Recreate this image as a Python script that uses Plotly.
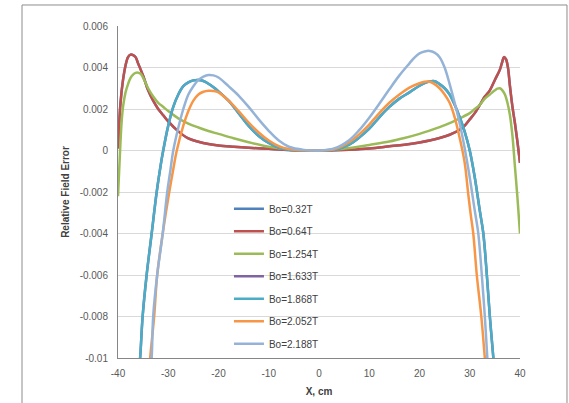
import plotly.graph_objects as go

# ---- data ----
series_names = ["Bo=0.32T", "Bo=0.64T", "Bo=1.254T", "Bo=1.633T", "Bo=1.868T", "Bo=2.052T", "Bo=2.188T"]
series_colors = ["#4F81BD", "#C0504D", "#9BBB59", "#8064A2", "#4BACC6", "#F79646", "#95B3D7"]

# 0.32T lies underneath the 0.64T curve in the picture
x_032 = [-40, -39.5, -39, -38.5, -38, -37.5, -37, -36.5, -36, -35, -34, -33, -32, -31, -30, -28, -26, -24, -22, -20, -17, -14, -10, -6, -3, 0,
         3, 6, 10, 14, 17, 20, 22, 24, 26, 28, 29, 30, 31, 32, 33, 34, 35, 36, 36.5, 36.8, 37.2, 37.6, 38, 38.5, 39, 39.5, 40]
y_032 = [0.0001, 0.0023, 0.0034, 0.0041, 0.0045, 0.00462, 0.0046, 0.0045, 0.0042, 0.0036, 0.0029, 0.0024, 0.0020, 0.0017, 0.0014, 0.00092, 0.00058, 0.00042, 0.00031, 0.00024, 0.00018, 0.00013, 0.00008, 0.00003, 0.00001, 0,
         0.00001, 0.00004, 0.0001, 0.0002, 0.00028, 0.00039, 0.00048, 0.0006, 0.00076, 0.001, 0.0012, 0.0015, 0.0018, 0.0022, 0.0026, 0.0029, 0.0034, 0.0039, 0.0043, 0.0045, 0.0044, 0.0040, 0.0031, 0.0021, 0.0013, 0.0004, -0.0006]

x_064 = [-40, -39.5, -39, -38.5, -38, -37.5, -37, -36.5, -36, -35, -34, -33, -32, -31, -30, -28, -26, -24, -22, -20, -17, -14, -10, -6, -3, 0,
         3, 6, 10, 14, 17, 20, 22, 24, 26, 28, 29, 30, 31, 32, 33, 34, 35, 36, 36.5, 36.8, 37.2, 37.6, 38, 38.5, 39, 39.5, 40]
y_064 = [0.0001, 0.0023, 0.0034, 0.0041, 0.0045, 0.00462, 0.0046, 0.0045, 0.0042, 0.0036, 0.0029, 0.0024, 0.0020, 0.0017, 0.0014, 0.00092, 0.00058, 0.00042, 0.00031, 0.00024, 0.00018, 0.00013, 0.00008, 0.00003, 0.00001, 0,
         0.00001, 0.00004, 0.0001, 0.0002, 0.00028, 0.00039, 0.00048, 0.0006, 0.00076, 0.001, 0.0012, 0.0015, 0.0018, 0.0022, 0.0026, 0.0029, 0.0034, 0.0039, 0.0043, 0.0045, 0.0044, 0.0040, 0.0031, 0.0021, 0.0013, 0.0004, -0.0006]

x_1254 = [-40, -39.7, -39.3, -39, -38.5, -38, -37.5, -37, -36.5, -36, -35.5, -35, -34, -33, -32, -31, -30, -28, -26, -24, -22, -20, -17, -14, -10, -6, -3, 0,
          3, 6, 10, 14, 17, 20, 22, 24, 26, 28, 30, 31, 32, 33, 34, 35, 35.5, 36, 36.5, 37, 37.5, 38, 38.5, 39, 39.5, 40]
y_1254 = [-0.0022, -0.0006, 0.0013, 0.0021, 0.0028, 0.0032, 0.0035, 0.00366, 0.00374, 0.00375, 0.0037, 0.0035, 0.0030, 0.0026, 0.0023, 0.0021, 0.0019, 0.00155, 0.0013, 0.00111, 0.00094, 0.0008, 0.00059, 0.0004, 0.00018, 0.00005, 0.00001, 0,
          0.00004, 0.00012, 0.00027, 0.00043, 0.0006, 0.0008, 0.00096, 0.00113, 0.00132, 0.00155, 0.0018, 0.002, 0.0022, 0.0025, 0.0027, 0.0029, 0.00298, 0.003, 0.0029, 0.0027, 0.0023, 0.0017, 0.0007, -0.0008, -0.0023, -0.004]

# 1.633T lies underneath the 1.868T curve in the picture
x_1633 = [-36.2, -35.6, -35.1, -34.3, -33.3, -32.3, -31.5, -31, -30, -29, -28, -27, -26, -25, -24, -23, -22, -21, -20, -18, -16, -14, -12, -10, -8, -6, -3, 0,
          3, 6, 8, 10, 12, 14, 16, 18, 20, 21, 22, 23, 24, 25, 26, 27, 28, 29, 30, 31, 32, 32.7, 33.4, 34, 34.7, 35.2]
y_1633 = [-0.0115, -0.01, -0.008, -0.006, -0.004, -0.002, -0.0007, 0, 0.0012, 0.0021, 0.0027, 0.0031, 0.00328, 0.00338, 0.0034, 0.00335, 0.00322, 0.00305, 0.00285, 0.0024, 0.0018, 0.00118, 0.0007, 0.00036, 0.00014, 0.00004, 0.00001, 0,
          0.00004, 0.00028, 0.00062, 0.00105, 0.0016, 0.0021, 0.0025, 0.0028, 0.00312, 0.00325, 0.00333, 0.00334, 0.0032, 0.003, 0.0027, 0.0022, 0.0016, 0.0009, 0.0, -0.0013, -0.0029, -0.004, -0.006, -0.008, -0.01, -0.0115]

x_1868 = [-36.2, -35.6, -35.1, -34.3, -33.3, -32.3, -31.5, -31, -30, -29, -28, -27, -26, -25, -24, -23, -22, -21, -20, -18, -16, -14, -12, -10, -8, -6, -3, 0,
          3, 6, 8, 10, 12, 14, 16, 18, 20, 21, 22, 23, 24, 25, 26, 27, 28, 29, 30, 31, 32, 32.7, 33.4, 34, 34.7, 35.2]
y_1868 = [-0.0115, -0.01, -0.008, -0.006, -0.004, -0.002, -0.0007, 0, 0.0012, 0.0021, 0.0027, 0.0031, 0.00328, 0.00338, 0.0034, 0.00335, 0.00322, 0.00305, 0.00285, 0.0024, 0.0018, 0.00118, 0.0007, 0.00036, 0.00014, 0.00004, 0.00001, 0,
          0.00004, 0.00028, 0.00062, 0.00105, 0.0016, 0.0021, 0.0025, 0.0028, 0.00312, 0.00325, 0.00333, 0.00334, 0.0032, 0.003, 0.0027, 0.0022, 0.0016, 0.0009, 0.0, -0.0013, -0.0029, -0.004, -0.006, -0.008, -0.01, -0.0115]

x_2052 = [-34.0, -33.6, -32.8, -32.2, -31.1, -29.8, -29, -28.3, -27, -26, -25, -24, -23, -22, -21, -20, -18, -16, -14, -12, -10, -8, -6, -3, 0,
          3, 6, 8, 10, 12, 14, 16, 18, 20, 21, 22, 23, 24, 25, 26, 27, 28, 29, 29.7, 30.2, 30.7, 31.4, 32.3, 33.0, 33.5]
y_2052 = [-0.0115, -0.01, -0.008, -0.006, -0.004, -0.002, -0.0009, 0, 0.0012, 0.0019, 0.0024, 0.0027, 0.00283, 0.00288, 0.00287, 0.0028, 0.0024, 0.0019, 0.00135, 0.00087, 0.00048, 0.00021, 0.00007, 0.00001, 0,
          0.00006, 0.0004, 0.00078, 0.00125, 0.0018, 0.0023, 0.0027, 0.00303, 0.00324, 0.00331, 0.00331, 0.0032, 0.003, 0.0027, 0.0023, 0.0016, 0.0006, -0.0006, -0.0021, -0.0031, -0.004, -0.006, -0.008, -0.01, -0.0115]

x_2188 = [-33.8, -33.3, -33.0, -32.2, -31.1, -30.2, -29.6, -29, -28, -27, -26, -25, -24, -23, -22, -21, -20, -18, -16, -14, -12, -10, -8, -6, -3, 0,
          3, 6, 8, 10, 12, 14, 16, 18, 19, 20, 21, 22, 23, 24, 25, 26, 27, 28, 29, 30, 31, 31.7, 32.4, 33, 33.5, 33.9]
y_2188 = [-0.0115, -0.01, -0.008, -0.006, -0.004, -0.002, -0.001, 0, 0.0011, 0.002, 0.0027, 0.0031, 0.0034, 0.00356, 0.00364, 0.00362, 0.00352, 0.0031, 0.00265, 0.0021, 0.0015, 0.00095, 0.00048, 0.00018, 0.00003, 0,
          0.0001, 0.0005, 0.00098, 0.00158, 0.00225, 0.00295, 0.00362, 0.0042, 0.00448, 0.00468, 0.00477, 0.0048, 0.00472, 0.0045, 0.0040, 0.0032, 0.0023, 0.0013, 0.0001, -0.0013, -0.0029, -0.004, -0.006, -0.008, -0.01, -0.0115]

x_tickvals = [-40, -30, -20, -10, 0, 10, 20, 30, 40]
x_ticktext = ["-40", "-30", "-20", "-10", "0", "10", "20", "30", "40"]
y_tickvals = [0.006, 0.004, 0.002, 0, -0.002, -0.004, -0.006, -0.008, -0.01]
y_ticktext = ["0.006", "0.004", "0.002", "0", "-0.002", "-0.004", "-0.006", "-0.008", "-0.01"]

xs = [x_032, x_064, x_1254, x_1633, x_1868, x_2052, x_2188]
ys = [y_032, y_064, y_1254, y_1633, y_1868, y_2052, y_2188]

FONT = "Liberation Sans, Arial, sans-serif"

fig = go.Figure()
for i, (name, col, xv, yv) in enumerate(zip(series_names, series_colors, xs, ys)):
    fig.add_trace(go.Scatter(
        x=xv, y=yv, name=name, mode="lines",
        line=dict(color=col, width=2.5, shape="spline", smoothing=1.0),
        legendgroup=f"g{i}",
    ))

fig.update_layout(
    width=569, height=403,
    margin=dict(l=118, r=49, t=26, b=45, autoexpand=False),
    paper_bgcolor="white", plot_bgcolor="white",
    font=dict(family=FONT, size=10, color="#595959"),
    showlegend=True,
    legend=dict(
        x=0.276, y=0.493, xanchor="left", yanchor="top",
        bgcolor="rgba(0,0,0,0)", borderwidth=0,
        font=dict(family=FONT, size=10, color="#404040"),
        traceorder="grouped", tracegroupgap=3.5,
    ),
    xaxis=dict(
        range=[-40, 40], tickmode="array", tickvals=x_tickvals, ticktext=x_ticktext,
        showgrid=False, zeroline=False, showline=True, linecolor="#868686", linewidth=1,
        automargin=False,
        ticks="", ticklabelstandoff=6, tickfont=dict(size=10, color="#595959"),
        title=dict(text="<b>X, cm</b>", font=dict(size=10, color="#404040"), standoff=9),
    ),
    yaxis=dict(
        range=[-0.01, 0.006], tickmode="array", tickvals=y_tickvals, ticktext=y_ticktext,
        showgrid=True, gridcolor="#D9D9D9", gridwidth=1, zeroline=False,
        showline=True, linecolor="#868686", linewidth=1,
        automargin=False,
        ticks="", ticklabelstandoff=7, tickfont=dict(size=10, color="#595959"),
        title=dict(text="<b>Relative Field Error</b>", font=dict(size=10, color="#404040"), standoff=8),
    ),
    shapes=[dict(type="rect", xref="paper", yref="paper",
                 x0=-0.2388, x1=1.1169, y0=-0.16, y1=1.0633,
                 line=dict(color="#8C8C8C", width=1), fillcolor="rgba(0,0,0,0)", layer="below")],
)

fig.write_html(
    "out.html", config={"displayModeBar": False},
    post_script=("document.documentElement.style.margin='0px';"
                 "document.body.style.margin='0px';"
                 "document.body.style.overflow='hidden';"
                 "document.documentElement.style.overflow='hidden';"
                 "var gd=document.getElementById('{plot_id}');gd.style.display='block';"
                 "window.scrollTo(0,0);"),
)
